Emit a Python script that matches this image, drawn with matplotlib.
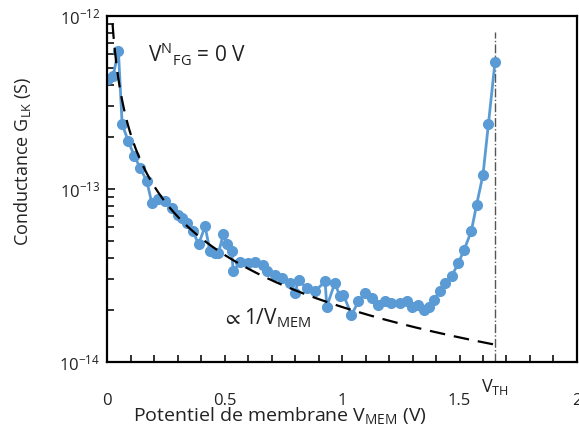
import numpy as np
import matplotlib
matplotlib.use('Agg')
import matplotlib.pyplot as plt
from matplotlib.ticker import MultipleLocator, LogLocator, LogFormatterMathtext, NullFormatter

plt.rcParams['font.family'] = ['Open Sans', 'DejaVu Sans']
plt.rcParams['mathtext.fontset'] = 'custom'
plt.rcParams['mathtext.rm'] = 'Open Sans'
plt.rcParams['mathtext.it'] = 'Open Sans'
plt.rcParams['mathtext.default'] = 'regular'

# membrane potential (V) and leak conductance (S)
v_mem = [0.003, 0.025, 0.048, 0.064, 0.09, 0.116, 0.14, 0.169, 0.19, 0.215,
         0.247, 0.275, 0.30, 0.32, 0.34, 0.366, 0.389, 0.417, 0.438, 0.46,
         0.474, 0.495, 0.51, 0.53, 0.537, 0.566, 0.60, 0.63, 0.665, 0.68,
         0.715, 0.743, 0.78, 0.80, 0.815, 0.85, 0.885, 0.928, 0.935, 0.97,
         0.99, 1.006, 1.04, 1.07, 1.098, 1.126, 1.155, 1.183, 1.21, 1.247,
         1.275, 1.296, 1.325, 1.35, 1.37, 1.39, 1.417, 1.44, 1.466, 1.495,
         1.52, 1.55, 1.573, 1.60, 1.623, 1.651]
g_lk = [4.31e-13, 4.47e-13, 6.31e-13, 2.37e-13, 1.89e-13, 1.55e-13, 1.33e-13, 1.11e-13, 8.32e-14, 8.71e-14,
        8.51e-14, 7.76e-14, 7.11e-14, 6.76e-14, 6.37e-14, 5.69e-14, 4.79e-14, 6.08e-14, 4.37e-14, 4.27e-14,
        4.27e-14, 5.50e-14, 4.79e-14, 4.37e-14, 3.34e-14, 3.80e-14, 3.72e-14, 3.80e-14, 3.63e-14, 3.34e-14,
        3.19e-14, 3.05e-14, 2.86e-14, 2.51e-14, 2.99e-14, 2.67e-14, 2.57e-14, 2.92e-14, 2.09e-14, 2.88e-14,
        2.40e-14, 2.45e-14, 1.87e-14, 2.24e-14, 2.51e-14, 2.34e-14, 2.14e-14, 2.24e-14, 2.19e-14, 2.19e-14,
        2.24e-14, 2.09e-14, 2.14e-14, 2.00e-14, 2.09e-14, 2.29e-14, 2.57e-14, 2.86e-14, 3.13e-14, 3.72e-14,
        4.47e-14, 5.69e-14, 8.13e-14, 1.21e-13, 2.37e-13, 5.40e-13]

x_ticks = [0, 0.5, 1, 1.5, 2]
x_ticklabels = ['0', '0.5', '1', '1.5', '2']

# 1/V_MEM fit
fit_k = 2.08e-14  # S.V
v_th = 1.65

blue = '#5B9BD5'
txt = '#222222'

fig = plt.figure(figsize=(5.79, 4.32), dpi=100)
ax = fig.add_axes([0.185, 0.162, 0.8115, 0.801])

v_fit = np.linspace(0.01, v_th, 400)
ax.plot(v_fit, fit_k / v_fit, color='black', lw=1.6, dashes=(7, 4), zorder=3)
ax.plot(v_mem, g_lk, '-o', color=blue, lw=2, ms=7, zorder=2)
ax.plot([v_th, v_th], [1e-14, 8.1e-13], color='#555555', lw=1, ls='-.', zorder=1)

ax.set_yscale('log')
ax.set_xlim(0, 2)
ax.set_ylim(1e-14, 1e-12)

ax.set_xticks(x_ticks)
ax.set_xticklabels(x_ticklabels)
ax.xaxis.set_minor_locator(MultipleLocator(0.1))
ax.yaxis.set_major_locator(LogLocator(base=10, numticks=5))
ax.yaxis.set_major_formatter(LogFormatterMathtext())
ax.yaxis.set_minor_locator(LogLocator(base=10, subs=np.arange(2, 10), numticks=20))
ax.yaxis.set_minor_formatter(NullFormatter())

ax.tick_params(axis='both', which='both', direction='in', width=1.3, labelsize=12, colors=txt)
ax.tick_params(axis='x', which='both', length=5, pad=22)
ax.tick_params(axis='y', which='major', length=6, pad=5)
ax.tick_params(axis='y', which='minor', length=5)
for s in ax.spines.values():
    s.set_linewidth(1.6)

ax.set_xlabel(r'Potentiel de membrane V$_{MEM}$ (V)', fontsize=14, color=txt)
ax.xaxis.set_label_coords(0.368, -0.125)
ax.set_ylabel(r'Conductance G$_{LK}$ (S)', fontsize=13, color=txt)
ax.yaxis.set_label_coords(-0.157, 0.58)

ax.text(0.175, 6.0e-13, r'$V^{N}{}_{FG}$ = 0 V', fontsize=15, color=txt, va='center')
ax.text(0.49, 1.8e-14, r'$\propto$1/V$_{MEM}$', fontsize=15, color=txt, va='center')
ax.text(v_th, -0.072, r'V$_{TH}$', transform=ax.get_xaxis_transform(), fontsize=13,
        color=txt, ha='center', va='center')

fig.savefig('out.png', dpi=100)
